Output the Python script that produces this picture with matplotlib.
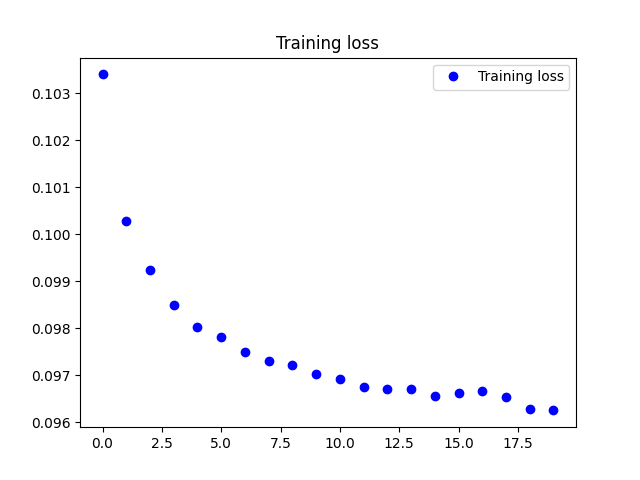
import matplotlib
matplotlib.use("Agg")
import matplotlib.pyplot as plt

epochs = list(range(20))
loss = [0.103404, 0.100277, 0.099234, 0.098489, 0.098021, 0.097809, 0.097489,
        0.097298, 0.097213, 0.097021, 0.096915, 0.096745, 0.096702, 0.096702,
        0.096553, 0.096617, 0.096660, 0.096532, 0.096277, 0.096255]

fig = plt.figure(figsize=(6.4, 4.8), dpi=100)
plt.plot(epochs, loss, 'bo', label='Training loss')
plt.title('Training loss')
plt.legend()
plt.savefig('out.png')
